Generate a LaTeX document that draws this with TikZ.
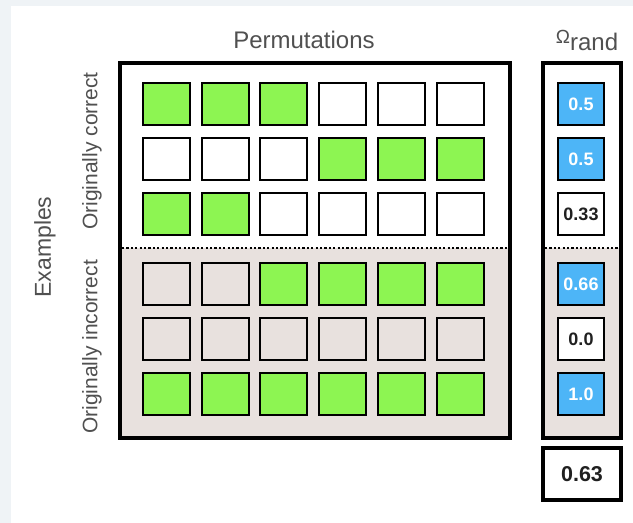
\documentclass[tikz,border=0pt]{standalone}
\usepackage{fontspec}
\setmainfont{Liberation Sans}
\usetikzlibrary{calc}
\definecolor{panel}{HTML}{EFF3F6}
\definecolor{lime}{HTML}{8DF552}
\definecolor{sky}{HTML}{4DB5F7}
\definecolor{sand}{HTML}{E8E1DE}
\definecolor{label}{HTML}{505050}
\definecolor{digits}{HTML}{202020}

\begin{document}
\begin{tikzpicture}[x=1pt,y=-1pt,
 cell/.style={draw,line width=2pt,minimum width=47pt,minimum height=42pt,inner sep=0pt},
 score/.style={cell,minimum width=46pt,font=\fontsize{18}{18}\selectfont\bfseries},
 frame/.style={draw,line width=4pt,inner sep=0pt},
 caption/.style={text=label,font=\fontsize{24}{24}\selectfont},
 side/.style={caption,rotate=90,font=\fontsize{21}{21}\selectfont},
 sep/.style={line width=2.6pt,dash pattern=on 2.2pt off 2.2pt}]
 \useasboundingbox (0,0) rectangle (633,523);
 \fill[panel] (0,0) rectangle (633,523);
 \fill[white] (11,6) rectangle (633,523);
 % lower half: originally incorrect
 \fill[sand] (120,248) rectangle (510,438);
 \fill[sand] (543,248) rectangle (621,438);
 \draw[sep] (122,248)--(508,248);
 \draw[sep] (545,248)--(619,248);
 \node[frame,minimum width=390pt,minimum height=375pt] (perm) at (315,250.5) {};
 \node[frame,minimum width=78pt,minimum height=375pt] (omega) at (582,250.5) {};
 % permutation grid, green from column \a to \b
 \foreach \r/\y/\base/\a/\b in {1/104/white/1/3,2/159/white/4/6,3/214/white/1/2,
  4/284/sand/3/6,5/339/sand/0/0,6/394/sand/1/6}{
  \foreach \c in {1,...,6}{
   \pgfmathtruncatemacro{\on}{(\c>=\a)&&(\c<=\b)}
   \ifnum\on=1 \def\hue{lime}\else\def\hue{\base}\fi
   \node[cell,fill=\hue] (c\r\c) at ({166.5+58.7*(\c-1)},\y) {};
  }
 }
 \foreach \r/\y/\v/\hue/\ink in {1/104/0.5/sky/white,2/159/0.5/sky/white,
  3/214/0.33/white/digits,4/284/0.66/sky/white,5/339/0.0/white/digits,6/394/1.0/sky/white}
  \node[score,fill=\hue,text=\ink] (w\r) at (581,\y) {\v};
 \node[frame,minimum width=78pt,minimum height=52pt,text=digits,
  font=\fontsize{21.5}{21.5}\selectfont\bfseries] (total) at (582,474) {0.63};
 % labels
 \node[caption] (permtitle) at (304,40) {Permutations};
 \node[caption] (omegatitle) at (587,40) {\raisebox{7pt}{\fontsize{19}{19}\selectfont Ω}rand};
 \node[side,font=\fontsize{23}{23}\selectfont] (examples) at (45,247) {Examples};
 \node[side] (correct) at (92,151) {Originally correct};
 \node[side] (incorrect) at (92,347) {Originally incorrect};
\end{tikzpicture}
\end{document}
